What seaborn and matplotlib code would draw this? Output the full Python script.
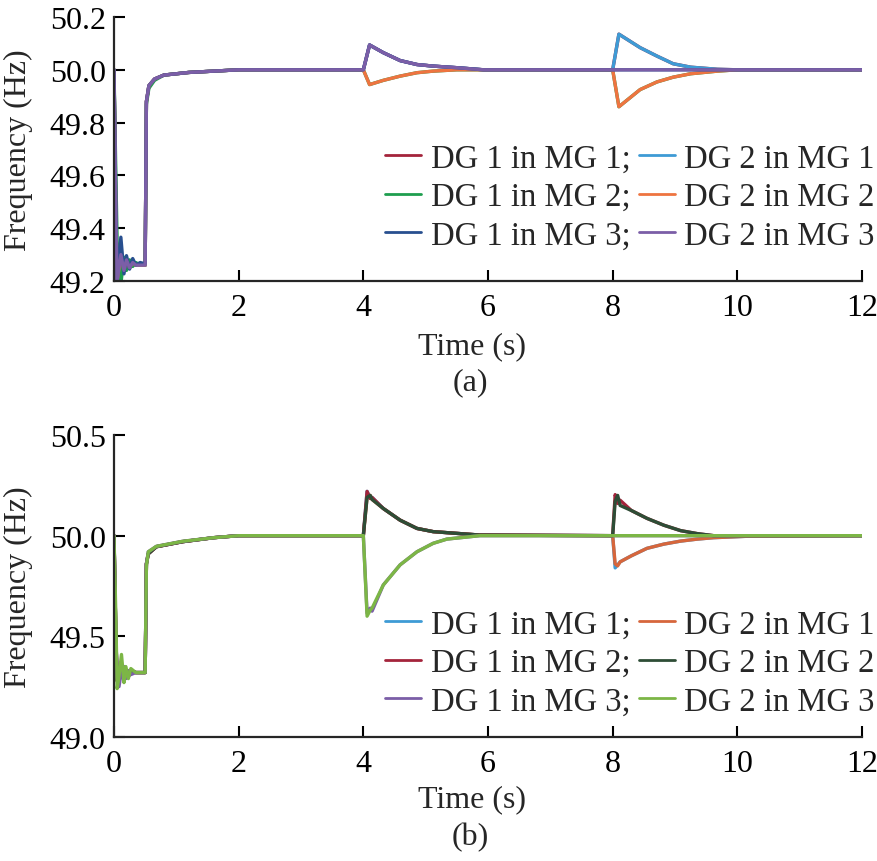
import numpy as np
import pandas as pd
import seaborn as sns
import matplotlib.pyplot as plt
from matplotlib.lines import Line2D

# ---------------- panel (a) data ----------------
time_a_start = [0, 0.03, 0.05, 0.11, 0.16, 0.2, 0.25, 0.3, 0.35, 0.42, 0.5,
                0.52, 0.56, 0.65, 0.8, 1.2, 2.0]
time_a_event = [4.0, 4.1, 4.32, 4.59, 4.86, 5.12, 5.5, 5.93,
                8.0, 8.1, 8.44, 8.71, 8.97, 9.25, 9.68, 10.0, 12.0]

a_start_common = [50.0, 49.45, 49.2, 49.3, 49.24, 49.28, 49.25, 49.27, 49.26, 49.26, 49.26,
                  49.88, 49.94, 49.965, 49.98, 49.99, 50.0]
a_start_mg2 = [50.0, 49.6, 49.35, 49.19, 49.29, 49.24, 49.28, 49.255, 49.27, 49.26, 49.26,
               49.87, 49.93, 49.96, 49.98, 49.99, 50.0]
a_start_mg3 = [50.0, 49.5, 49.2, 49.366, 49.227, 49.296, 49.245, 49.285, 49.26, 49.27, 49.265,
               49.88, 49.94, 49.965, 49.98, 49.99, 50.0]

a_up_4 = [50.0, 50.094, 50.065, 50.035, 50.02, 50.014, 50.008, 50.0]
a_down_4 = [50.0, 49.944, 49.96, 49.976, 49.989, 49.995, 50.0, 50.0]
a_up_8 = [50.0, 50.135, 50.084, 50.052, 50.023, 50.01, 50.002, 50.0, 50.0]
a_down_8 = [50.0, 49.86, 49.925, 49.954, 49.972, 49.985, 49.995, 50.0, 50.0]
a_flat_8 = [50.0, 50.0, 50.0, 50.0, 50.0, 50.0, 50.0, 50.0, 50.0]

series_a = {
    "DG 1 in MG 1": a_start_common + a_up_4 + a_up_8,
    "DG 2 in MG 1": a_start_common + a_up_4 + a_up_8,
    "DG 1 in MG 2": a_start_mg2 + a_down_4 + a_down_8,
    "DG 2 in MG 2": a_start_common + a_down_4 + a_down_8,
    "DG 1 in MG 3": a_start_mg3 + a_up_4 + a_flat_8,
    "DG 2 in MG 3": a_start_common + a_up_4 + a_flat_8,
}
colors_a = ["#A4243B", "#3E9BD5", "#1E9E4E", "#EE7440", "#284F8F", "#7B5EA7"]

# ---------------- panel (b) data ----------------
time_b_start = [0, 0.03, 0.05, 0.08, 0.12, 0.16, 0.19, 0.23, 0.27, 0.35, 0.5,
                0.52, 0.55, 0.68, 1.1, 1.6, 2.0]
time_b_event = [4.0, 4.06, 4.11, 4.14, 4.32, 4.59, 4.86, 5.12, 5.34, 5.87,
                8.0, 8.04, 8.08, 8.12, 8.3, 8.55, 8.82, 9.09, 9.36, 9.62, 10.15, 12.0]

b_start_common = [50.0, 49.5, 49.28, 49.27, 49.36, 49.3, 49.33, 49.3, 49.33, 49.32, 49.32,
                  49.86, 49.91, 49.945, 49.97, 49.99, 50.0]
b_start_mg3_dg1 = [50.0, 49.5, 49.3, 49.25, 49.33, 49.35, 49.29, 49.33, 49.31, 49.32, 49.32,
                   49.86, 49.92, 49.947, 49.972, 49.99, 50.0]
b_start_mg3_dg2 = [50.0, 49.6, 49.24, 49.3, 49.41, 49.27, 49.35, 49.29, 49.34, 49.32, 49.32,
                   49.85, 49.92, 49.947, 49.972, 49.99, 50.0]

b_up_4 = [50.0, 50.22, 50.185, 50.19, 50.135, 50.077, 50.036, 50.02, 50.015, 50.003]
b_up_4_dg2 = [50.0, 50.19, 50.2, 50.18, 50.135, 50.077, 50.036, 50.02, 50.015, 50.003]
b_down_4 = [50.0, 49.615, 49.64, 49.625, 49.755, 49.855, 49.92, 49.962, 49.983, 50.0]
b_down_4_dg2 = [50.0, 49.6, 49.63, 49.64, 49.755, 49.855, 49.92, 49.962, 49.983, 50.0]
b_up_8 = [50.0, 50.204, 50.16, 50.176, 50.125, 50.086, 50.052, 50.025, 50.01, 50.0, 50.0, 50.0]
b_up_8_dg2 = [50.0, 50.17, 50.2, 50.15, 50.125, 50.086, 50.052, 50.025, 50.01, 50.0, 50.0, 50.0]
b_down_8 = [50.0, 49.84, 49.855, 49.87, 49.9, 49.937, 49.958, 49.973, 49.983, 49.99, 49.997, 50.0]
b_down_8_dg2 = [50.0, 49.86, 49.85, 49.87, 49.9, 49.937, 49.958, 49.973, 49.983, 49.99, 49.997, 50.0]
b_flat_8 = [50.0] * 12

series_b = {
    "DG 1 in MG 1": b_start_common + b_up_4 + b_down_8,
    "DG 2 in MG 1": b_start_common + b_up_4_dg2 + b_down_8_dg2,
    "DG 1 in MG 2": b_start_common + b_up_4 + b_up_8,
    "DG 2 in MG 2": b_start_common + b_up_4_dg2 + b_up_8_dg2,
    "DG 1 in MG 3": b_start_mg3_dg1 + b_down_4 + b_flat_8,
    "DG 2 in MG 3": b_start_mg3_dg2 + b_down_4_dg2 + b_flat_8,
}
colors_b = ["#3E9BD5", "#D6663C", "#A4243B", "#2E4D36", "#7B5EA7", "#7CB646"]

x_ticks = [0, 2, 4, 6, 8, 10, 12]
y_ticks_a = [49.2, 49.4, 49.6, 49.8, 50.0, 50.2]
y_ticks_b = [49.0, 49.5, 50.0, 50.5]

# ---------------- style ----------------
sns.set_style("ticks")
plt.rcParams["font.family"] = ["Liberation Serif", "DejaVu Serif"]
plt.rcParams["font.size"] = 23
plt.rcParams["axes.linewidth"] = 1.6

fig = plt.figure(figsize=(8.77, 8.62), dpi=100)
W, H = 877, 862


def px_axes(x0, x1, y0, y1):
    return fig.add_axes([x0 / W, 1 - y1 / H, (x1 - x0) / W, (y1 - y0) / H])


def draw(ax, t, series, colors, yticks, ylim, leg_top):
    names = list(series.keys())
    df = pd.concat([pd.DataFrame({"t": t, "f": v, "s": k}) for k, v in series.items()])
    sns.lineplot(data=df, x="t", y="f", hue="s", hue_order=names,
                 palette=dict(zip(names, colors)), estimator=None, sort=False,
                 lw=2.4, legend=False, ax=ax)
    ax.set_xlim(0, 12)
    ax.set_ylim(*ylim)
    ax.set_xticks(x_ticks)
    ax.set_yticks(yticks)
    ax.set_yticklabels([f"{v:.1f}" for v in yticks])
    ax.tick_params(direction="in", length=8, width=1.5, labelsize=23, colors="black")
    ax.tick_params(axis="x", pad=9)
    ax.tick_params(axis="y", pad=6)
    sns.despine(ax=ax)
    ax.set_xlabel("Time (s)", fontsize=23)
    ax.set_ylabel("Frequency (Hz)", fontsize=23)

    # legend, column-major: DG1 entries first
    order = [0, 2, 4, 1, 3, 5]
    handles = [Line2D([], [], color=colors[i], lw=2) for i in order]
    labels = [names[i] + (";" if i in (0, 2, 4) else "") for i in order]
    ax.legend(handles, labels, ncol=2, frameon=False, loc="upper right",
              bbox_to_anchor=(875 / W, 1 - leg_top / H), bbox_transform=fig.transFigure,
              borderpad=0, handlelength=1.1, handletextpad=0.3, columnspacing=0.25,
              labelspacing=0.25, fontsize=23.5, borderaxespad=0)


ax_a = px_axes(114, 862, 18, 282)
t_a = time_a_start + time_a_event
draw(ax_a, t_a, series_a, colors_a, y_ticks_a, (49.2, 50.2), 144)
ax_a.xaxis.set_label_coords((472 - 114) / 748, -(347 - 282) / 264)
ax_a.xaxis.label.set_va("center")
ax_a.yaxis.set_label_coords((18 - 114) / 748, 0.5)
ax_a.yaxis.label.set_va("center")
fig.text(470 / W, 1 - 383 / H, "(a)", ha="center", va="center", fontsize=23)

ax_b = px_axes(114, 862, 436, 738)
t_b = time_b_start + time_b_event
draw(ax_b, t_b, series_b, colors_b, y_ticks_b, (49.0, 50.5), 610)
ax_b.xaxis.set_label_coords((472 - 114) / 748, -(800 - 738) / 302)
ax_b.xaxis.label.set_va("center")
ax_b.yaxis.set_label_coords((18 - 114) / 748, 0.5)
ax_b.yaxis.label.set_va("center")
fig.text(470 / W, 1 - 838 / H, "(b)", ha="center", va="center", fontsize=23)

fig.savefig("out.png", dpi=100)
